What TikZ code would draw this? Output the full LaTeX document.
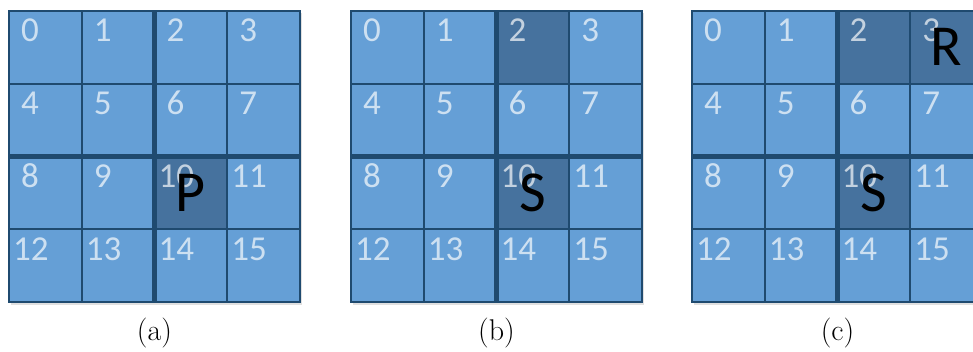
\documentclass[tikz,border=0pt]{standalone}
\usepackage{fontspec}
\newfontfamily\calfont{Carlito}
\usetikzlibrary{calc}
\definecolor{lightc}{HTML}{659FD6}
\definecolor{darkc}{HTML}{46729E}
\definecolor{linec}{HTML}{1F4A6F}
\tikzset{
  cellbox/.style={minimum size=72.75pt,inner sep=0pt,outer sep=0pt,fill=lightc},
  thinline/.style={draw=linec,line width=2pt},
  thickline/.style={draw=linec,line width=5pt},
  outerline/.style={draw=linec,line width=2.2pt},
  numtxt/.style={inner sep=0pt,text=white,text opacity=0.68,font=\calfont\fontsize{35}{35}\selectfont},
  bigl/.style={inner sep=0pt,text=black,font=\calfont\fontsize{58}{58}\selectfont},
  captxt/.style={inner sep=0pt,font=\fontsize{30}{30}\selectfont}
}
\newcommand\mypanel[4]{%
  \fill[black!12] (#2+2,13) rectangle (#2+2+291,11+291+3);
  \foreach \i in {0,...,15}{
    \pgfmathtruncatemacro\cc{mod(\i,4)}
    \pgfmathtruncatemacro\rr{div(\i,4)}
    \node[cellbox] (#1\i) at ({#2+(\cc+0.5)*72.75},{11+(\rr+0.5)*72.75}) {};
  }
  \foreach \d in {#3}{\fill[darkc] (#1\d.north west) rectangle (#1\d.south east);}
  \foreach \i in {0,...,15}{\draw[thinline] (#1\i.north west) rectangle (#1\i.south east);}
  \draw[thickline] (#11.north east) -- (#113.south east);
  \draw[thickline] (#14.south west) -- (#17.south east);
  \draw[outerline] (#10.north west) rectangle (#115.south east);
  \foreach \i in {0,...,15}{
    \ifnum\i<10 \def\off{12}\else\def\off{4}\fi
    \node[numtxt,anchor=base west] (#1n\i) at ($(#1\i.north west)+(\off,31)$) {\i};
  }
  \node[captxt,anchor=base] (#1cap) at ($(#113.south east)+(0,38)$) {#4};
}
\begin{document}
\begin{tikzpicture}[x=1pt,y=-1pt]
\useasboundingbox (0,0) rectangle (973,352);
\clip (0,0) rectangle (973,352);
\fill[white] (0,0) rectangle (973,352);
\mypanel{a}{9}{10}{(a)}
\mypanel{b}{351}{2,10}{(b)}
\mypanel{c}{692}{2,3,10}{(c)}
\node[bigl] (aP) at (a10) {P};
\node[bigl] (bS) at (b10) {S};
\node[bigl] (cR) at (c3) {R};
\node[bigl] (cS) at (c10) {S};
\end{tikzpicture}
\end{document}
